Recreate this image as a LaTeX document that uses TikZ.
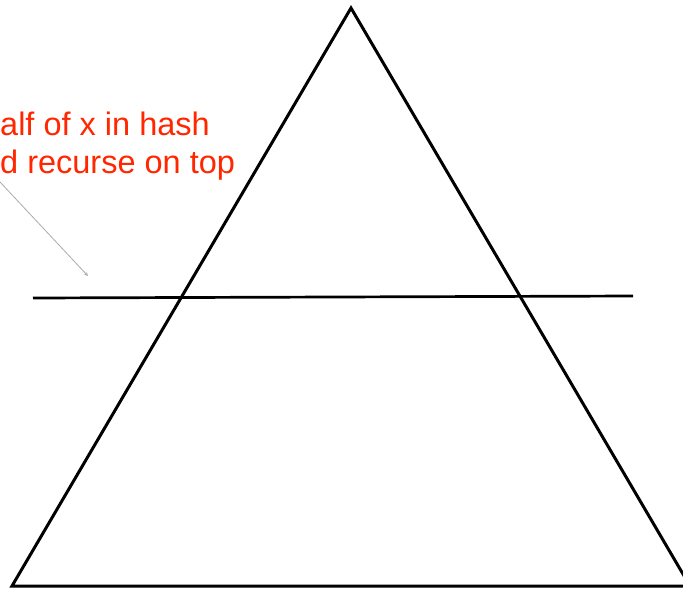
\documentclass[tikz,border=0pt]{standalone}
\usepackage{fontspec}
\setmainfont{Liberation Sans}
\definecolor{notered}{RGB}{255,38,0}
\definecolor{arrowgray}{RGB}{170,170,170}
\begin{document}
\begin{tikzpicture}[x=1pt,y=-1pt,>=stealth,line join=miter]
\useasboundingbox (0,0) rectangle (683,590);
\tikzset{note/.style={text=notered,font=\fontsize{32.5}{38}\selectfont,anchor=base west,inner sep=0pt}}

\coordinate (apex) at (351,8);
\coordinate (bl) at (12,586);
\coordinate (br) at (690,586);
\draw[line width=3pt] (apex) -- (bl) -- (br) -- cycle;

\coordinate (cutl) at (33,298);
\coordinate (cutr) at (633,296);
\draw[line width=2.7pt] (cutl) -- (cutr);

\node[note] (line1) at (0,135) {alf of x in hash};
\node[note] (line2) at (0,173) {d recurse on top};

\coordinate (tail) at (0,182);
\coordinate (tip) at (88,276);
\draw[->,arrowgray,line width=0.8pt] (tail) -- (tip);
\end{tikzpicture}
\end{document}
